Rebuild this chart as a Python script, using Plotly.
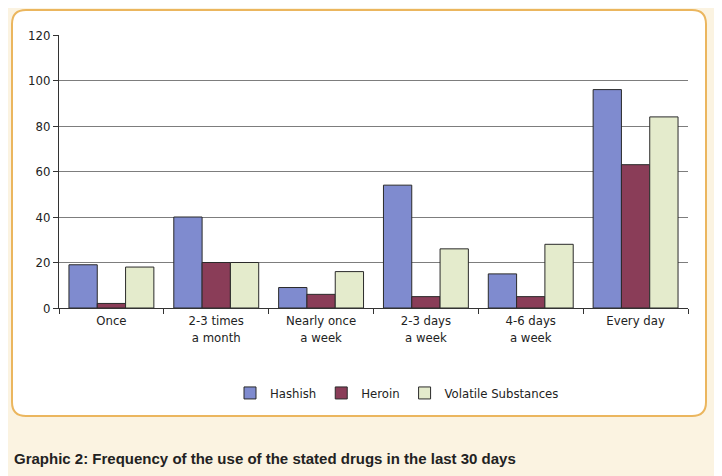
import plotly.graph_objects as go

categories = ["Once", "2-3 times<br>a month", "Nearly once<br>a week", "2-3 days<br>a week", "4-6 days<br>a week", "Every day"]
hashish = [19, 40, 9, 54, 15, 96]
heroin = [2, 20, 6, 5, 5, 63]
volatile = [18, 20, 16, 26, 28, 84]
y_ticks = [0, 20, 40, 60, 80, 100, 120]

W, H = 722, 476
OFF = 8  # browser body margin
L, R, T, B = 59 - OFF, 688 - OFF, 35 - OFF, 308 - OFF

def px(x):
    return (x - OFF - L) / (R - L)

def py(y):
    return (B - (y - OFF)) / (B - T)

def rounded(x0, y0, x1, y1, r):
    pts = [
        f"M {px(x0 + r)} {py(y0)}",
        f"L {px(x1 - r)} {py(y0)}",
        f"Q {px(x1)} {py(y0)} {px(x1)} {py(y0 + r)}",
        f"L {px(x1)} {py(y1 - r)}",
        f"Q {px(x1)} {py(y1)} {px(x1 - r)} {py(y1)}",
        f"L {px(x0 + r)} {py(y1)}",
        f"Q {px(x0)} {py(y1)} {px(x0)} {py(y1 - r)}",
        f"L {px(x0)} {py(y0 + r)}",
        f"Q {px(x0)} {py(y0)} {px(x0 + r)} {py(y0)}",
        "Z",
    ]
    return " ".join(pts)

FONT = "DejaVu Sans Condensed, DejaVu Sans"

fig = go.Figure()
series = [("Hashish", hashish, "#7f8bcf"), ("Heroin", heroin, "#8a3d58"), ("Volatile Substances", volatile, "#e4ebcc")]
for name, vals, col in series:
    fig.add_trace(go.Bar(x=categories, y=vals, name=name,
                         marker=dict(color=col, line=dict(color="#2a2a2a", width=1))))

fig.update_layout(
    width=W, height=H,
    margin=dict(l=L, r=W - R, t=T, b=H - B),
    paper_bgcolor="#fbf3e1",
    plot_bgcolor="white",
    barmode="group", bargap=0.19, bargroupgap=0.0,
    font=dict(family=FONT, size=13, color="#222"),
    legend=dict(orientation="h", x=px(397), xanchor="center", y=py(393), yanchor="middle",
                font=dict(family=FONT, size=13), bgcolor="rgba(0,0,0,0)",
                itemwidth=30, traceorder="normal"),
    showlegend=True,
    shapes=[dict(type="path", xref="paper", yref="paper", path=rounded(12, 10, 706, 416, 14),
                 line=dict(color="#ebb65e", width=2), fillcolor="white", layer="below")],
    annotations=[dict(text="<b>Graphic 2: Frequency of the use of the stated drugs in the last 30 days</b>",
                      xref="paper", yref="paper", x=px(12), y=py(458), xanchor="left", yanchor="middle",
                      showarrow=False, font=dict(family="Liberation Sans", size=15, color="#222"))],
)
fig.update_yaxes(range=[0, 120], tickvals=y_ticks, showgrid=True, gridcolor="#7d7d7d", gridwidth=1,
                 showline=True, linecolor="#333", linewidth=1, ticks="outside", ticklen=5,
                 tickcolor="#333", zeroline=False, tickfont=dict(size=13))
fig.update_xaxes(showline=True, linecolor="#333", linewidth=1, ticks="outside", ticklen=5,
                 tickcolor="#333", tickson="boundaries", tickfont=dict(size=13))

fig.write_html("out.html")
